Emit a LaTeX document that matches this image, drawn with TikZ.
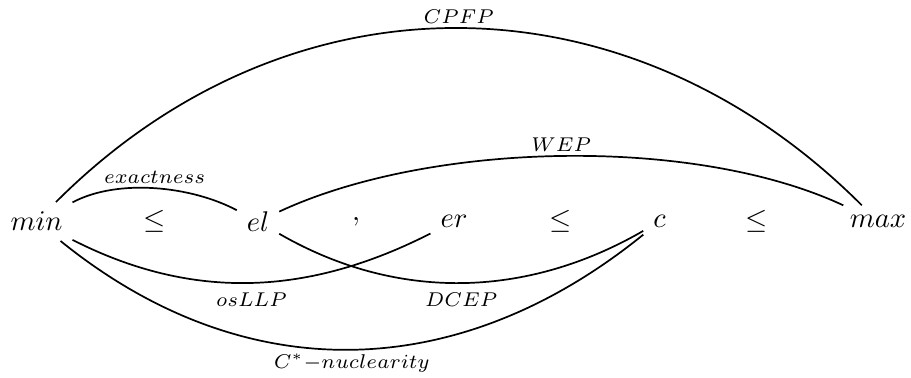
\documentclass[tikz,border=0pt]{standalone}
\usepackage{amsmath}
\usepackage{amssymb}
\usetikzlibrary{positioning}

\tikzset{
  lbl/.style={font=\scriptsize},
  arc/.style={line width=0.6pt}
}

\begin{document}
\begin{tikzpicture}[x=0.3509pt, y=0.3509pt]
\useasboundingbox (0,0) rectangle (911,377);
\node (min) at (36.5,155.5) {$min$};
\node (le1) at (155,155.5) {$\leq$};
\node (el) at (258,155.5) {$el$};
\node (comma) at (356,155.5) {$,$};
\node (er) at (454,155.5) {$er$};
\node (le2) at (561,155.5) {$\leq$};
\node (c) at (659.5,155.5) {$c$};
\node (le3) at (757,155.5) {$\leq$};
\node (max) at (878,155.5) {$max$};
\draw[arc] (min) to[out=45, in=135, looseness=1.05] node[above, lbl, inner sep=1.3pt] {$CPFP$} (max);
\draw[arc] (min) to[out=28, in=152, looseness=0.8] node[above, lbl, inner sep=1.3pt] {$exactness$} (el);
\draw[arc] (el) to[out=25, in=155, looseness=0.75] node[above, lbl, inner sep=1.3pt] {$WEP$} (max);
\draw[arc] (min) to[out=-27, in=-153, looseness=0.97] node[below, lbl, inner sep=3pt] {$osLLP$} (er);
\draw[arc] (el) to[out=-30, in=-150, looseness=0.95] node[below, lbl, inner sep=3pt] {$DCEP$} (c);
\draw[arc] (min) to[out=-39, in=-141, looseness=1.04] node[below, lbl, inner sep=1pt] {$C^*{-}nuclearity$} (c);
\end{tikzpicture}
\end{document}
